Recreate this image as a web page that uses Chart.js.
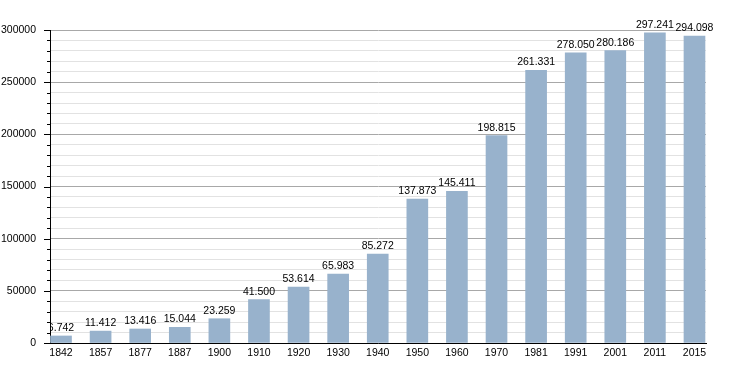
<!DOCTYPE html>
<html>
<head>
<meta charset="utf-8">
<script src="https://cdn.jsdelivr.net/npm/chart.js@4"></script>
<style>
  body { margin: 0; background: #fff; }
  #wrap { width: 735px; height: 373px; }
</style>
</head>
<body>
<div id="wrap"><canvas id="popChart" width="735" height="373"></canvas></div>
<script>
const years = ["1842", "1857", "1877", "1887", "1900", "1910", "1920", "1930", "1940",
  "1950", "1960", "1970", "1981", "1991", "2001", "2011", "2015"];
const population = [6742, 11412, 13416, 15044, 23259, 41500, 53614, 65983, 85272,
  137873, 145411, 198815, 261331, 278050, 280186, 297241, 294098];
const yTicks = [0, 50000, 100000, 150000, 200000, 250000, 300000];

const popChart = document.getElementById("popChart");
const FONT = "'Liberation Sans', Arial, sans-serif";

function fmt(v) {
  return v.toString().replace(/\B(?=(\d{3})+(?!\d))/g, ".");
}

// tick marks on the y axis + value labels above the bars
const extras = {
  id: "extras",
  afterDraw(chart) {
    const ctx = chart.ctx;
    const y = chart.scales.y;
    const area = chart.chartArea;
    ctx.save();
    ctx.strokeStyle = "#000";
    ctx.lineWidth = 1;
    for (let v = 0; v <= 300000; v += 10000) {
      const py = Math.round(y.getPixelForValue(v)) + 0.5;
      const len = yTicks.includes(v) ? 6 : 3;
      ctx.beginPath();
      ctx.moveTo(area.left - len, py);
      ctx.lineTo(area.left, py);
      ctx.stroke();
    }
    ctx.restore();

    ctx.save();
    ctx.beginPath();
    ctx.rect(area.left, 0, chart.width - area.left, chart.height);
    ctx.clip();
    ctx.font = "10.5px " + FONT;
    ctx.fillStyle = "#000";
    ctx.textAlign = "center";
    ctx.textBaseline = "alphabetic";
    chart.getDatasetMeta(0).data.forEach((bar, i) => {
      ctx.fillText(fmt(population[i]), bar.x, bar.y - 5);
    });
    ctx.restore();
  }
};

new Chart(popChart, {
  type: "bar",
  data: {
    datasets: [{
      data: population.map((v, i) => ({ x: i, y: v })),
      backgroundColor: "#98b2cc",
      borderWidth: 0,
      barThickness: 21
    }]
  },
  options: {
    responsive: false,
    animation: false,
    layout: { padding: { left: 0, right: 29, top: 30, bottom: 0 } },
    plugins: { legend: { display: false }, tooltip: { enabled: false } },
    scales: {
      x: {
        type: "linear",
        offset: false,
        min: -0.278,
        max: 16.291,
        grid: { display: false, drawTicks: false, offset: false },
        border: { display: true, color: "#000", width: 1 },
        ticks: {
          stepSize: 1,
          includeBounds: false,
          autoSkip: false,
          maxRotation: 0,
          padding: 4,
          color: "#000",
          font: { family: FONT, size: 10.5 },
          callback: (v) => Number.isInteger(v) ? years[v] : ""
        },
        afterFit: (scale) => { scale.height = 30; }
      },
      y: {
        min: 0,
        max: 300000,
        grid: {
          drawTicks: false,
          color: (c) => (c.tick && c.tick.value % 50000 === 0) ? "#a8a8a8" : "#e2e2e2"
        },
        border: { display: true, color: "#000", width: 1 },
        ticks: {
          stepSize: 10000,
          autoSkip: false,
          padding: 14,
          color: "#000",
          font: { family: FONT, size: 10.5 },
          callback: (v) => yTicks.includes(v) ? v.toString() : ""
        },
        afterFit: (scale) => { scale.width = 50; }
      }
    }
  },
  plugins: [extras]
});
</script>
</body>
</html>
